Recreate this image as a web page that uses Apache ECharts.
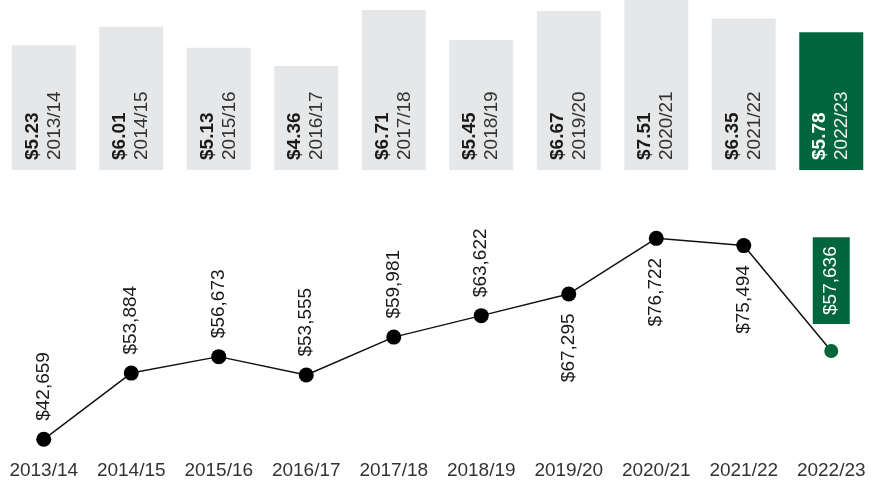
<!DOCTYPE html>
<html>
<head>
<meta charset="utf-8">
<script src="https://cdn.jsdelivr.net/npm/echarts@6/dist/echarts.min.js"></script>
<style>
  html, body { margin: 0; padding: 0; background: #fff; }
  #chart { width: 875px; height: 484px; }
</style>
</head>
<body>
<div id="chart"></div>
<script>
var years = ["2013/14", "2014/15", "2015/16", "2016/17", "2017/18", "2018/19", "2019/20", "2020/21", "2021/22", "2022/23"];
// top bars: dollars
var barValues = [5.23, 6.01, 5.13, 4.36, 6.71, 5.45, 6.67, 7.51, 6.35, 5.78];
// bottom line: dollars
var lineValues = [42659, 53884, 56673, 53555, 59981, 63622, 67295, 76722, 75494, 57636];
// which line labels sit under the point
var labelBelow = [false, false, false, false, false, false, true, true, true, false];

var green = "#00663d";
var grey = "#e6e7e8";
var font = "'Liberation Sans', Arial, sans-serif";
var fs = 19;

var chart = echarts.init(document.getElementById("chart"));

function money(v) {
  return "$" + v.toString().replace(/\B(?=(\d{3})+(?!\d))/g, ",");
}

var barData = barValues.map(function (v, i) {
  var last = i === barValues.length - 1;
  return {
    value: v,
    itemStyle: { color: last ? green : grey },
    label: last ? {
      rich: {
        v: { color: "#fff", fontWeight: "bold", fontSize: fs, lineHeight: 22, fontFamily: font },
        c: { color: "#e8f0ec", fontSize: fs, lineHeight: 22, fontFamily: font }
      }
    } : undefined
  };
});

var lineData = lineValues.map(function (v, i) {
  var item = { value: v };
  if (i === lineValues.length - 1) {
    item.symbolSize = 14;
    item.itemStyle = { color: green };
    item.label = {
      position: "top",
      distance: 20,
      align: "left",
      color: "#fff",
      backgroundColor: green,
      padding: [9, 9, 9, 9]
    };
  } else if (labelBelow[i]) {
    item.label = { position: "bottom", distance: 12, align: "right" };
  }
  return item;
});

var option = {
  animation: false,
  textStyle: { fontFamily: font },
  grid: [
    { left: -2, right: -3, top: 0, height: 170 },
    { left: -2, right: -3, top: 219, height: 236 }
  ],
  xAxis: [
    {
      gridIndex: 0, type: "category", data: years, show: false
    },
    {
      gridIndex: 1, type: "category", data: years,
      axisLine: { show: false }, axisTick: { show: false },
      axisLabel: { color: "#333", fontSize: fs, margin: 6, interval: 0, fontFamily: font }
    }
  ],
  yAxis: [
    { gridIndex: 0, type: "value", min: 0, max: 7.128, show: false },
    { gridIndex: 1, type: "value", min: 40000, max: 80000, show: false }
  ],
  series: [
    {
      type: "bar",
      xAxisIndex: 0, yAxisIndex: 0,
      barWidth: 64,
      data: barData,
      label: {
        show: true,
        position: "insideBottom",
        distance: 10,
        rotate: 90,
        align: "left",
        verticalAlign: "middle",
        formatter: function (p) {
          return "{v|$" + p.value.toFixed(2) + "}\n{c|" + p.name + "}";
        },
        rich: {
          v: { color: "#1a1a1a", fontWeight: "bold", fontSize: fs, lineHeight: 22, fontFamily: font },
          c: { color: "#333", fontSize: fs, lineHeight: 22, fontFamily: font }
        }
      }
    },
    {
      type: "line",
      xAxisIndex: 1, yAxisIndex: 1,
      data: lineData,
      symbol: "circle",
      symbolSize: 15,
      lineStyle: { color: "#111", width: 1.5 },
      itemStyle: { color: "#000" },
      label: {
        show: true,
        position: "top",
        distance: 11,
        rotate: 90,
        align: "left",
        verticalAlign: "middle",
        color: "#1a1a1a",
        fontSize: fs,
        fontFamily: font,
        formatter: function (p) {
          return money(p.value);
        }
      }
    }
  ]
};

chart.setOption(option);
window.addEventListener("resize", chart.resize);
</script>
</body>
</html>
